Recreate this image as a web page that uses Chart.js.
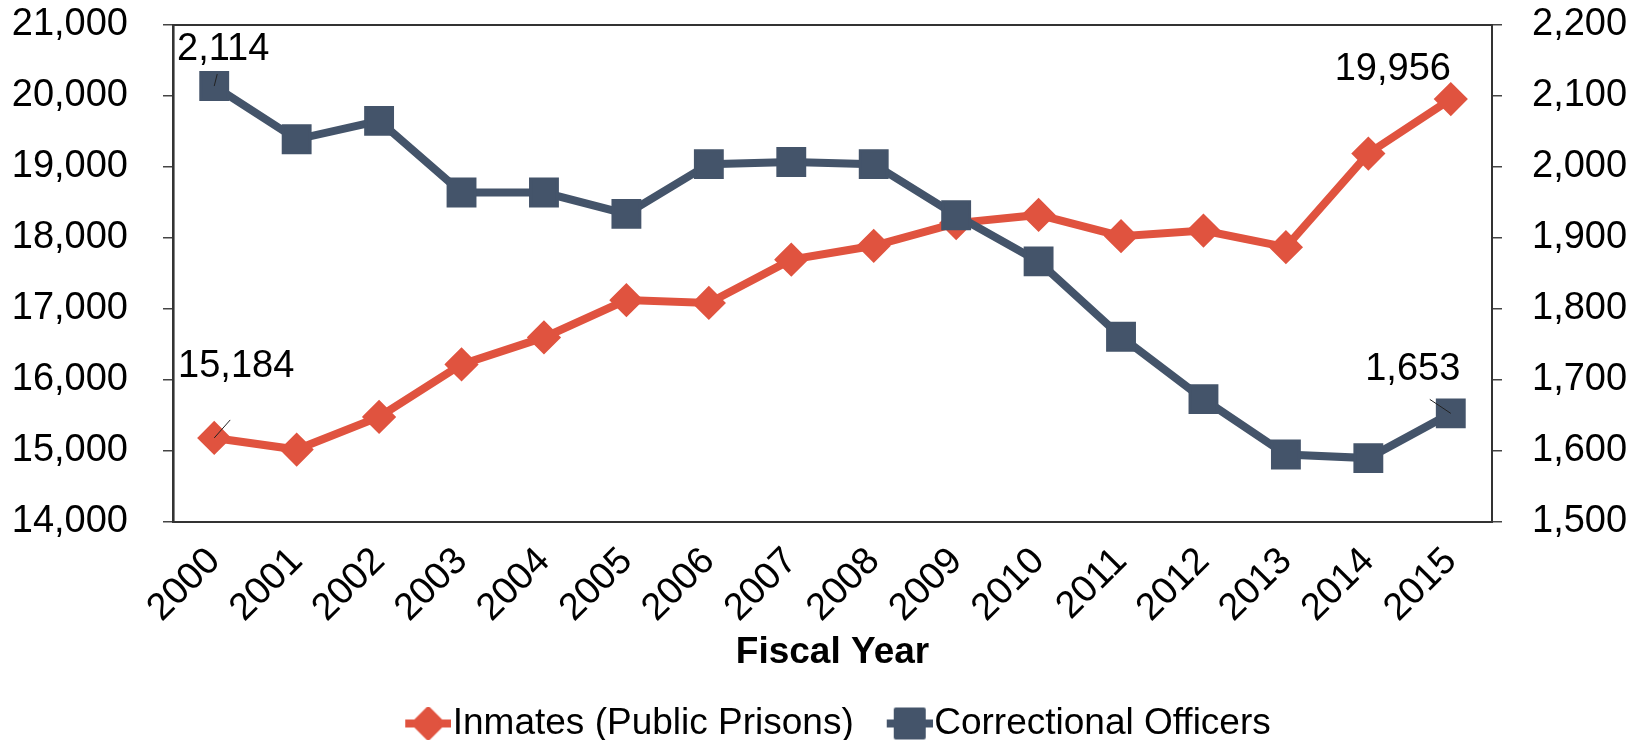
<!DOCTYPE html>
<html lang="en">
<head>
    <meta charset="UTF-8">
    <title>Inmates and Correctional Officers</title>
    <script src="https://cdn.jsdelivr.net/npm/chart.js"></script>
    <style>
        body {
            margin: 0;
            background: #fff;
        }
        #wrap {
            width: 1632px;
            height: 740px;
        }
    </style>
</head>
<body>
    <div id="wrap">
        <canvas id="myChart" width="1632" height="740"></canvas>
    </div>
    <script>
        // data
        var years = ['2000', '2001', '2002', '2003', '2004', '2005', '2006', '2007',
                     '2008', '2009', '2010', '2011', '2012', '2013', '2014', '2015'];
        var inmates = [15184, 15020, 15480, 16220, 16600, 17125, 17085, 17695,
                       17890, 18210, 18325, 18025, 18105, 17870, 19190, 19956];
        var officers = [2114, 2039, 2065, 1964, 1964, 1934, 2004, 2007,
                        2004, 1932, 1867, 1761, 1673, 1595, 1590, 1653];
        var leftTicks = [14000, 15000, 16000, 17000, 18000, 19000, 20000, 21000];
        var rightTicks = [1500, 1600, 1700, 1800, 1900, 2000, 2100, 2200];

        var RED = '#E0533F';
        var NAVY = '#44546A';
        var FONT = "'Liberation Sans', Arial, sans-serif";

        Chart.defaults.font.family = FONT;
        Chart.defaults.color = '#000';

        function fmt(v) {
            return Number(v).toLocaleString('en-US');
        }

        // legend icons: line stub with the marker, drawn in the right part
        // of a wider canvas so the text sits close to it
        function legendIcon(color, diamond) {
            var c = document.createElement('canvas');
            c.width = 74;
            c.height = 34;
            var g = c.getContext('2d');
            g.translate(28, 0);
            g.strokeStyle = color;
            g.lineWidth = 8;
            g.beginPath();
            g.moveTo(0, 17);
            g.lineTo(46, 17);
            g.stroke();
            g.fillStyle = color;
            g.lineJoin = 'round';
            g.lineWidth = 4;
            g.beginPath();
            if (diamond) {
                g.moveTo(23, 2); g.lineTo(38, 17); g.lineTo(23, 32); g.lineTo(8, 17);
            } else {
                g.rect(9, 3, 28, 28);
            }
            g.closePath();
            g.fill();
            g.stroke();
            return c;
        }
        var legendIcons = [legendIcon(RED, true), legendIcon(NAVY, false)];

        // frame round the plot area
        var framePlugin = {
            id: 'frame',
            beforeDatasetsDraw: function(chart) {
                var a = chart.chartArea, ctx = chart.ctx;
                ctx.save();
                ctx.strokeStyle = '#333';
                ctx.lineWidth = 2;
                ctx.strokeRect(a.left, a.top, a.right - a.left, a.bottom - a.top);
                ctx.restore();
            }
        };

        // nudge the legend down so its text line sits near the bottom edge
        var legendShift = {
            id: 'legendShift',
            afterLayout: function(chart) {
                var l = chart.legend;
                var dy = 723 - (l.top + 40);
                l.top += dy;
                l.bottom += dy;
            }
        };

        // value labels on first and last points, with short leader lines
        var callouts = [
            {ds: 1, i: 0,  dx: 9,   dy: -37, l: [0, 0, 3, -12]},
            {ds: 0, i: 0,  dx: 22,  dy: -71, l: [0, 0, 16, -18]},
            {ds: 0, i: 15, dx: -58, dy: -30, l: null},
            {ds: 1, i: 15, dx: -38, dy: -44, l: [0, 0, -21, -14]}
        ];
        var calloutPlugin = {
            id: 'callouts',
            afterDatasetsDraw: function(chart) {
                var ctx = chart.ctx;
                ctx.save();
                ctx.font = '38px ' + FONT;
                ctx.fillStyle = '#000';
                ctx.textAlign = 'center';
                ctx.textBaseline = 'middle';
                callouts.forEach(function(c) {
                    var pt = chart.getDatasetMeta(c.ds).data[c.i];
                    var val = chart.data.datasets[c.ds].data[c.i];
                    if (c.l) {
                        ctx.strokeStyle = '#222';
                        ctx.lineWidth = 1;
                        ctx.beginPath();
                        ctx.moveTo(pt.x + c.l[0], pt.y + c.l[1]);
                        ctx.lineTo(pt.x + c.l[2], pt.y + c.l[3]);
                        ctx.stroke();
                    }
                    ctx.fillText(fmt(val), pt.x + c.dx, pt.y + c.dy);
                });
                ctx.restore();
            }
        };

        // y axes: keep the set width, drop the extra top/bottom padding
        function fitY(w) {
            return function(s) {
                s.width = w;
                s.paddingTop = 0;
                s.paddingBottom = 0;
            };
        }

        var ctx = document.getElementById('myChart').getContext('2d');
        var myChart = new Chart(ctx, {
            type: 'line',
            data: {
                labels: years,
                datasets: [{
                    label: 'Inmates (Public Prisons)',
                    data: inmates,
                    yAxisID: 'y',
                    order: 1,
                    borderColor: RED,
                    backgroundColor: RED,
                    borderWidth: 8,
                    pointStyle: 'rectRot',
                    pointRadius: 15,
                    pointBorderWidth: 3,
                    pointBorderColor: RED,
                    pointBackgroundColor: RED,
                    tension: 0
                }, {
                    label: 'Correctional Officers',
                    data: officers,
                    yAxisID: 'y1',
                    order: 0,
                    borderColor: NAVY,
                    backgroundColor: NAVY,
                    borderWidth: 8,
                    pointStyle: 'rect',
                    pointRadius: 19,
                    pointBorderWidth: 3,
                    pointBorderColor: NAVY,
                    pointBackgroundColor: NAVY,
                    tension: 0
                }]
            },
            options: {
                responsive: false,
                animation: false,
                layout: {
                    padding: {top: 25, left: 0, right: 0, bottom: 0}
                },
                plugins: {
                    tooltip: {enabled: false},
                    legend: {
                        position: 'bottom',
                        fullSize: false,
                        labels: {
                            usePointStyle: true,
                            pointStyleWidth: 40,
                            boxHeight: 24,
                            padding: 22,
                            color: '#000',
                            font: {size: 37},
                            sort: function(a, b) { return a.datasetIndex - b.datasetIndex; },
                            generateLabels: function(chart) {
                                var items = Chart.defaults.plugins.legend.labels.generateLabels(chart);
                                items.forEach(function(it) {
                                    it.pointStyle = legendIcons[it.datasetIndex];
                                });
                                return items;
                            }
                        }
                    }
                },
                scales: {
                    x: {
                        offset: true,
                        grid: {display: false},
                        border: {display: false},
                        ticks: {
                            minRotation: 45,
                            maxRotation: 45,
                            padding: 9,
                            font: {size: 38}
                        },
                        title: {
                            display: true,
                            text: 'Fiscal Year',
                            font: {size: 37, weight: 'bold', lineHeight: 1},
                            padding: {top: 0, bottom: 0}
                        },
                        afterFit: function(s) { s.height = 149; }
                    },
                    y: {
                        position: 'left',
                        min: 14000,
                        max: 21000,
                        afterBuildTicks: function(s) {
                            s.ticks = leftTicks.map(function(v) { return {value: v}; });
                        },
                        grid: {drawOnChartArea: false, tickLength: 10, color: '#444', lineWidth: 1.5},
                        border: {display: true, color: '#111', width: 2.5},
                        ticks: {padding: 35, font: {size: 38}, callback: fmt},
                        afterFit: fitY(173)
                    },
                    y1: {
                        position: 'right',
                        min: 1500,
                        max: 2200,
                        afterBuildTicks: function(s) {
                            s.ticks = rightTicks.map(function(v) { return {value: v}; });
                        },
                        grid: {drawOnChartArea: false, tickLength: 10, color: '#444', lineWidth: 1.5},
                        border: {display: true, color: '#333', width: 2},
                        ticks: {padding: 30, font: {size: 38}, callback: fmt},
                        afterFit: fitY(140)
                    }
                }
            },
            plugins: [framePlugin, legendShift, calloutPlugin]
        });
    </script>
</body>
</html>
